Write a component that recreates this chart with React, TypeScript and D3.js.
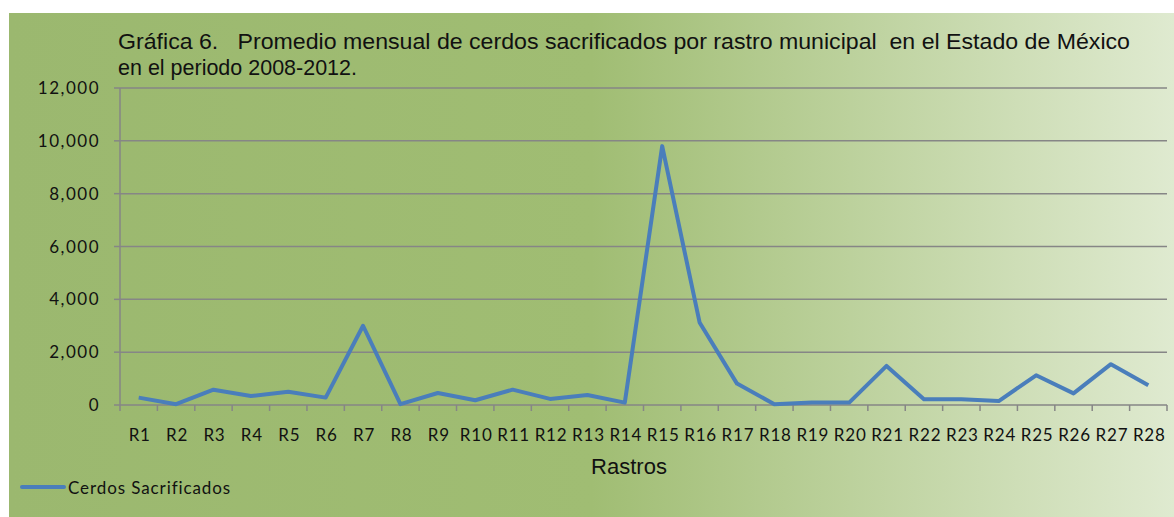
import React from "react";
import * as d3 from "d3";

const categories = ["R1","R2","R3","R4","R5","R6","R7","R8","R9","R10","R11","R12","R13","R14","R15","R16","R17","R18","R19","R20","R21","R22","R23","R24","R25","R26","R27","R28"];
const values = [280, 30, 580, 340, 505, 280, 3000, 30, 455, 180, 580, 230, 380, 90, 9800, 3125, 810, 30, 90, 90, 1480, 215, 215, 150, 1125, 440, 1545, 750];
const yTicks = [0, 2000, 4000, 6000, 8000, 10000, 12000];
const titleLines = [
  "Gráfica 6.   Promedio mensual de cerdos sacrificados por rastro municipal  en el Estado de México",
  "en el periodo 2008-2012.",
];
const titleWidths = [1012, 239];
const xTitle = "Rastros";
const seriesName = "Cerdos Sacrificados";

const W = 1174, H = 517;
const plot = { left: 120, right: 1167, top: 88, bottom: 405 };

export default function App() {
  const x = d3.scaleBand<string>().domain(categories).range([plot.left, plot.right]);
  const y = d3.scaleLinear().domain([0, 12000]).range([plot.bottom, plot.top]);
  const line = d3.line<number>()
    .x((_, i) => (x(categories[i]) as number) + x.bandwidth() / 2)
    .y((d) => y(d));
  const fmt = d3.format(",");
  const labelFont = "Lato, 'Open Sans', sans-serif";
  const titleFont = "'Liberation Sans', Arial, sans-serif";
  const gridColor = "#868686";
  const boundaries = categories.map((c) => x(c) as number).concat([plot.right]);

  return (
    <svg width={W} height={H} style={{ position: "absolute", left: 0, top: 0 }}>
      <defs>
        <linearGradient id="bg" x1="0" x2="1" y1="0" y2="0">
          <stop offset="0" stopColor="#9bb86f" />
          <stop offset="0.5" stopColor="#a0bd73" />
          <stop offset="1" stopColor="#dfead0" />
        </linearGradient>
      </defs>
      <rect x={9} y={13} width={W - 9} height={H - 13} fill="url(#bg)" />
      {titleLines.map((t, i) => (
        <text key={i} x={118} y={49 + i * 26} fontFamily={titleFont} fontSize={22.5} fill="#111"
          style={{ whiteSpace: "pre" }} textLength={titleWidths[i]} lengthAdjust="spacingAndGlyphs">{t}</text>
      ))}
      {yTicks.map((t) => (
        <g key={t}>
          <line x1={plot.left} x2={plot.right} y1={y(t)} y2={y(t)} stroke={gridColor} strokeWidth={1.5} />
          <line x1={plot.left - 6} x2={plot.left} y1={y(t)} y2={y(t)} stroke={gridColor} strokeWidth={1.5} />
          <text x={plot.left - 20} y={y(t) + 6} textAnchor="end" fontFamily={labelFont} fontSize={17} letterSpacing={1.5} fill="#111">{fmt(t)}</text>
        </g>
      ))}
      <line x1={plot.left} x2={plot.left} y1={plot.top} y2={plot.bottom} stroke={gridColor} strokeWidth={1.5} />
      {boundaries.map((b, i) => (
        <line key={i} x1={b} x2={b} y1={plot.bottom} y2={plot.bottom + 6} stroke={gridColor} strokeWidth={1.5} />
      ))}
      {categories.map((c) => (
        <text key={c} x={(x(c) as number) + x.bandwidth() / 2 + 1} y={441} textAnchor="middle" fontFamily={labelFont} fontSize={17} letterSpacing={0.8} fill="#111">{c}</text>
      ))}
      <text x={629} y={474} textAnchor="middle" fontFamily={titleFont} fontSize={22} fill="#111">{xTitle}</text>
      <path d={line(values) || ""} fill="none" stroke="#4a7ebb" strokeWidth={4} strokeLinejoin="round" />
      <line x1={22} x2={64} y1={487} y2={487} stroke="#4a7ebb" strokeWidth={4} strokeLinecap="round" />
      <text x={68} y={494} fontFamily={labelFont} fontSize={17} letterSpacing={0.9} fill="#111">{seriesName}</text>
    </svg>
  );
}
